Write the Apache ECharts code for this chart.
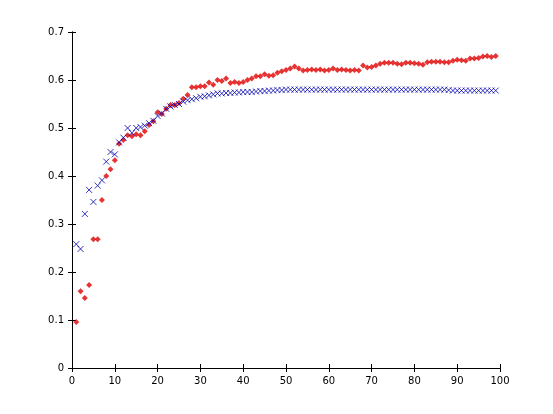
<!DOCTYPE html>
<html><head><meta charset="utf-8">
<script src="https://cdn.jsdelivr.net/npm/echarts@6/dist/echarts.min.js"></script>
<style>body{margin:0;background:#fff}#c{width:553px;height:414px}</style>
</head><body><div id="c"></div>
<script>
// values at x = 1..99
var redVals = [0.096,0.160,0.146,0.173,0.268,0.268,0.350,0.400,0.414,0.433,
  0.467,0.475,0.485,0.483,0.487,0.485,0.493,0.506,0.514,0.533,
  0.529,0.540,0.548,0.548,0.552,0.561,0.569,0.585,0.585,0.587,
  0.587,0.595,0.590,0.600,0.598,0.603,0.594,0.596,0.594,0.596,
  0.600,0.603,0.608,0.608,0.612,0.609,0.610,0.615,0.618,0.621,
  0.624,0.628,0.624,0.620,0.621,0.622,0.621,0.622,0.620,0.621,
  0.624,0.621,0.622,0.621,0.620,0.621,0.620,0.630,0.626,0.627,
  0.630,0.634,0.636,0.636,0.636,0.634,0.633,0.636,0.636,0.635,
  0.634,0.632,0.637,0.638,0.638,0.638,0.637,0.637,0.640,0.642,
  0.641,0.640,0.645,0.645,0.646,0.649,0.650,0.648,0.650];
var blueVals = [0.258,0.248,0.321,0.371,0.346,0.380,0.391,0.430,0.450,0.445,
  0.470,0.480,0.500,0.490,0.500,0.502,0.505,0.510,0.515,0.525,
  0.530,0.540,0.545,0.548,0.550,0.555,0.558,0.560,0.562,0.565,
  0.566,0.568,0.570,0.572,0.572,0.573,0.573,0.574,0.574,0.575,
  0.575,0.575,0.576,0.577,0.577,0.578,0.578,0.579,0.579,0.580,
  0.580,0.580,0.580,0.580,0.580,0.580,0.580,0.580,0.580,0.580,
  0.580,0.580,0.580,0.580,0.580,0.580,0.580,0.580,0.580,0.580,
  0.580,0.580,0.580,0.580,0.580,0.580,0.580,0.580,0.580,0.580,
  0.580,0.580,0.580,0.580,0.580,0.580,0.580,0.579,0.578,0.578,
  0.578,0.578,0.578,0.578,0.578,0.578,0.578,0.578,0.578];
function pts(v){return v.map(function(y,i){return [i+1,y];});}
var chart = echarts.init(document.getElementById('c'));
var ax = {axisLine:{lineStyle:{color:'#000'}},axisTick:{inside:true,length:4,lineStyle:{color:'#000'}},
  axisLabel:{color:'#000',fontSize:10,fontFamily:'DejaVu Sans'},splitLine:{show:false}};
chart.setOption({
  animation:false,
  grid:{left:72,right:53,top:32,bottom:46},
  xAxis:Object.assign({type:'value',min:0,max:100,interval:10},ax),
  yAxis:Object.assign({type:'value',min:0,max:0.7,interval:0.1},ax),
  series:[
    {type:'scatter',data:pts(redVals),symbol:'diamond',symbolSize:6,itemStyle:{color:'#e00000'}},
    {type:'scatter',data:pts(blueVals),symbol:'path://M0,0L10,10M10,0L0,10',symbolSize:6,
     itemStyle:{color:'none',borderColor:'#0000b0',borderWidth:1}}
  ]
});
// box on top/right
chart.setOption({xAxis:[chart.getOption().xAxis[0],{type:'value',position:'top',min:0,max:100,interval:10,
  axisLine:{lineStyle:{color:'#000'}},axisTick:{inside:true,length:4,lineStyle:{color:'#000'}},axisLabel:{show:false},splitLine:{show:false}}],
  yAxis:[chart.getOption().yAxis[0],{type:'value',position:'right',min:0,max:0.7,interval:0.1,
  axisLine:{lineStyle:{color:'#000'}},axisTick:{inside:true,length:4,lineStyle:{color:'#000'}},axisLabel:{show:false},splitLine:{show:false}}]});
</script></body></html>
